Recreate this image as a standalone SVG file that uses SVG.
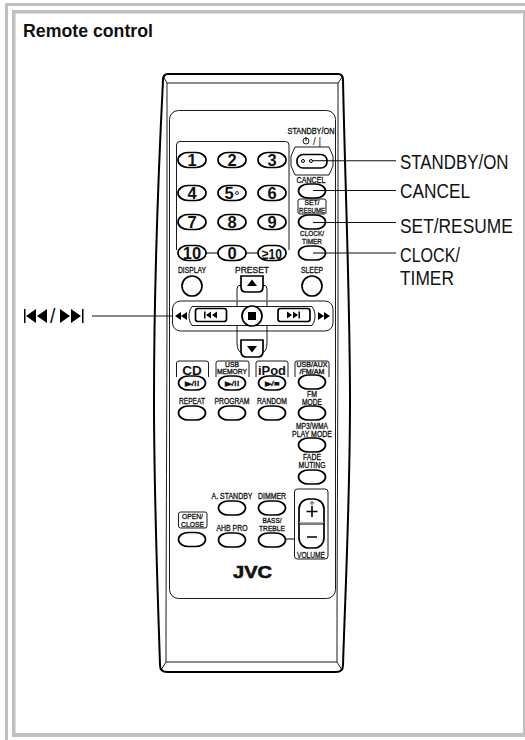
<svg xmlns="http://www.w3.org/2000/svg" width="525" height="740" viewBox="0 0 525 740">
<style>
text{font-family:"Liberation Sans",Arial,sans-serif;fill:#111}
.s{font-size:8.500px;text-anchor:middle;stroke:#111;stroke-width:.3}
.b{fill:#fff;stroke:#000;stroke-width:1.7}
.t{fill:none;stroke:#000;stroke-width:.9}
.c{fill:none;stroke:#111;stroke-width:1.1}
.f{fill:#000;stroke:none}
.l{font-size:19.500px}
.n{font-size:16.500px;font-weight:bold;text-anchor:middle}
</style>
<defs>
<rect id="btn" class="b" x="-13.500" y="-7" width="27" height="14" rx="10" ry="7"/>
<rect id="num" class="b" x="-14" y="-7.500" width="28" height="15" rx="10" ry="7.500"/>
</defs>
<g id="frame" fill="#c0c0c4">
<rect x="5" y="3" width="520" height="3"/><rect x="5" y="3" width="3" height="737"/>
<rect x="12" y="10" width="513" height="3.500"/><rect x="12" y="10" width="3.500" height="727"/>
<rect x="12" y="733" width="513" height="4"/><rect x="523" y="10" width="2" height="727"/>
</g>
<text id="title" x="23" y="37" font-size="17.500" font-weight="bold" textLength="130" lengthAdjust="spacingAndGlyphs">Remote control</text>
<g id="body">
<path d="M163,80Q163,74 168,74L338,74Q343,74 343,80C345,180 350,300 350,400C350,500 345,600 343,665Q343,672 336,672L167,672Q160,672 160,665C158,600 154,500 154,400C154,300 158,180 163,80Z" fill="#fff" stroke="#000" stroke-width="2"/>
<path d="M167,83H338M167,83V290C167,400 166,550 166,662H337C337,550 338,400 338,290V83M163,76L167,83M343,76L338,83M161,670L166,662M342,670L337,662" class="t"/>
<rect x="169.500" y="110.500" width="166" height="488" rx="9" class="t" fill="#fff"/>
</g>
<path id="numframe" d="M176.500,250V145Q176.500,141.500 180,141.500H285.500Q289,141.500 289,145V250" class="t"/>
<g id="connectors">
<path d="M303,160.700H396M313,190.500H396M313,222.500H396M313,253H396M92,316H172" class="c"/>
<path d="M205,253H219M245,253H259M285,539H294" fill="none" stroke="#000" stroke-width="1.200"/>
</g>
<g id="numbers">
<use href="#num" x="192" y="160"/><text class="n" x="192" y="166">1</text>
<use href="#num" x="232" y="160"/><text class="n" x="232" y="166">2</text>
<use href="#num" x="272" y="160"/><text class="n" x="272" y="166">3</text>
<use href="#num" x="192" y="193"/><text class="n" x="192" y="199">4</text>
<use href="#num" x="232" y="193"/><text class="n" x="229" y="199">5</text><circle cx="237" cy="193" r="1.500" fill="none" stroke="#000" stroke-width=".8"/>
<use href="#num" x="272" y="193"/><text class="n" x="272" y="199">6</text>
<use href="#num" x="192" y="222"/><text class="n" x="192" y="228">7</text>
<use href="#num" x="232" y="222"/><text class="n" x="232" y="228">8</text>
<use href="#num" x="272" y="222"/><text class="n" x="272" y="228">9</text>
<use href="#num" x="192" y="253"/><text class="n" x="192" y="259">10</text>
<use href="#num" x="232" y="253"/><text class="n" x="232" y="259">0</text>
<use href="#num" x="272" y="253"/><text class="n" x="272" y="258.500" style="font-size:14px" textLength="20" lengthAdjust="spacingAndGlyphs">≥10</text>
</g>
<g id="standby">
<text class="s" x="311" y="134" textLength="47" lengthAdjust="spacingAndGlyphs">STANDBY/ON</text>
<circle cx="306" cy="141" r="3" fill="none" stroke="#000" stroke-width=".9"/><path d="M306,137V141" stroke="#000" stroke-width="1"/>
<text x="317" y="144.500" font-size="10" text-anchor="middle">/ |</text>
<path d="M295,147H329L333,156V166L329,175H295L291,166V156Z" class="t" fill="#fff"/>
<rect x="297" y="154.500" width="30" height="13.500" rx="6" class="b"/>
<circle cx="303" cy="161" r="1.500" fill="none" stroke="#000"/><circle cx="311" cy="161" r="1.500" fill="none" stroke="#000"/>
<path d="M312.500,160.700H327" class="c"/>
</g>
<g id="cancel"><text class="s" x="311" y="183" textLength="29" lengthAdjust="spacingAndGlyphs">CANCEL</text><use href="#btn" x="312" y="191"/><path d="M313,190.500H326" class="c"/></g>
<g id="setresume">
<rect x="298" y="199" width="28" height="15" rx="2" class="t"/>
<text class="s" x="312" y="205" textLength="15" lengthAdjust="spacingAndGlyphs" style="font-size:7px">SET/</text>
<text class="s" x="312" y="212.500" textLength="26" lengthAdjust="spacingAndGlyphs" style="font-size:7px">RESUME</text>
<use href="#btn" x="312" y="222"/><path d="M313,222.500H326" class="c"/>
</g>
<g id="clock">
<text class="s" x="312" y="236" textLength="24" lengthAdjust="spacingAndGlyphs" style="font-size:7.500px">CLOCK/</text>
<text class="s" x="312" y="244" textLength="20" lengthAdjust="spacingAndGlyphs" style="font-size:7.500px">TIMER</text>
<use href="#btn" x="312" y="253"/><path d="M313,253H326" class="c"/>
</g>
<g id="display"><text class="s" x="192" y="273" textLength="28" lengthAdjust="spacingAndGlyphs">DISPLAY</text><circle class="b" cx="192" cy="286" r="10"/></g>
<g id="sleep"><text class="s" x="312" y="273" textLength="22" lengthAdjust="spacingAndGlyphs">SLEEP</text><circle class="b" cx="312" cy="286" r="10"/></g>
<g id="dpad">
<path d="M237,300V289Q237,285 241,285M263,285Q267,285 267,289V300M237,331V342Q237,353 243,353M261,353Q267,353 267,342V331" class="t"/>
<rect x="172.500" y="301" width="160.500" height="30" rx="8" class="t" fill="#fff"/>
<path d="M192,306.500H312C316,312 316,320 312,325.500H192C188,320 188,312 192,306.500Z" class="t" fill="#fff"/>
<path d="M237,301V306M267,301V306M237,326V331M267,326V331" class="t"/>
<text class="s" x="252" y="273" textLength="34" lengthAdjust="spacingAndGlyphs">PRESET</text>
<path d="M241,276H263V287Q263,292 258,292H246Q241,292 241,287Z" class="b"/><path d="M247,286L252,279.500L257,286Z" class="f"/>
<path d="M241,340H263V351Q263,357 258,357H246Q241,357 241,351Z" class="b"/><path d="M247,346L257,346L252,352.500Z" class="f"/>
<rect x="195.500" y="308.500" width="31" height="13" rx="2.500" class="b"/>
<rect x="278" y="308.500" width="32" height="13" rx="2.500" class="b"/>
<path d="M204,311.500V318.500H205.500V311.500ZM206,315L211,311.500V318.500ZM212,315L217,311.500V318.500Z" class="f"/>
<path d="M287,311.500L292,315L287,318.500ZM293,311.500L298,315L293,318.500ZM298.500,311.500V318.500H300V311.500Z" class="f"/>
<circle class="b" cx="252" cy="316" r="10" stroke-width="2"/><rect x="248" y="312" width="8" height="8" class="f"/>
<path d="M175,316L181,312V320ZM181,316L187,312V320Z" class="f"/>
<path d="M324,312L330,316L324,320ZM318,312L324,316L318,320Z" class="f"/>
</g>
<g id="cd">
<path d="M176.500,377V363Q176.500,361 179,361H206Q208.500,361 208.500,363V377" class="t"/>
<text x="192" y="374.500" font-size="13.500" font-weight="bold" text-anchor="middle">CD</text>
<use href="#btn" x="192" y="383"/><text class="s" x="192" y="386" style="font-size:7px" textLength="15" lengthAdjust="spacingAndGlyphs">▶/II</text>
</g>
<g id="usb">
<path d="M216,377V363Q216,361 218,361H247Q249,361 249,363V377" class="t"/>
<text class="s" x="232" y="367" style="font-size:6.500px" textLength="14" lengthAdjust="spacingAndGlyphs">USB</text>
<text class="s" x="232" y="374" style="font-size:6.500px" textLength="30" lengthAdjust="spacingAndGlyphs">MEMORY</text>
<use href="#btn" x="232" y="383"/><text class="s" x="232" y="386" style="font-size:7px" textLength="15" lengthAdjust="spacingAndGlyphs">▶/II</text>
</g>
<g id="ipod">
<path d="M256,377V363Q256,361 258,361H286Q288,361 288,363V377" class="t"/>
<text x="272" y="374.500" font-size="13.500" font-weight="bold" text-anchor="middle" textLength="28" lengthAdjust="spacingAndGlyphs">iPod</text>
<use href="#btn" x="272" y="383"/><text class="s" x="272" y="386" style="font-size:7px" textLength="15" lengthAdjust="spacingAndGlyphs">▶/■</text>
</g>
<g id="usbaux">
<path d="M295,377V363Q295,361 297,361H327Q329,361 329,363V377" class="t"/>
<text class="s" x="312" y="367" style="font-size:6.500px" textLength="31" lengthAdjust="spacingAndGlyphs">USB/AUX</text>
<text class="s" x="312" y="374" style="font-size:6.500px" textLength="25" lengthAdjust="spacingAndGlyphs">/FM/AM</text>
<use href="#btn" x="312" y="382"/>
</g>
<g id="repeat"><text class="s" x="192" y="404" textLength="26" lengthAdjust="spacingAndGlyphs">REPEAT</text><use href="#btn" x="192" y="413"/></g>
<g id="program"><text class="s" x="232" y="404" textLength="35" lengthAdjust="spacingAndGlyphs">PROGRAM</text><use href="#btn" x="232" y="413"/></g>
<g id="random"><text class="s" x="272" y="404" textLength="30" lengthAdjust="spacingAndGlyphs">RANDOM</text><use href="#btn" x="272" y="413"/></g>
<g id="fmmode"><text class="s" x="312" y="397" textLength="10" lengthAdjust="spacingAndGlyphs">FM</text><text class="s" x="312" y="404.500" textLength="20" lengthAdjust="spacingAndGlyphs">MODE</text><use href="#btn" x="312" y="413"/></g>
<g id="playmode"><text class="s" x="312" y="428.500" textLength="32" lengthAdjust="spacingAndGlyphs">MP3/WMA</text><text class="s" x="312" y="437" textLength="40" lengthAdjust="spacingAndGlyphs">PLAY MODE</text><use href="#btn" x="312" y="445"/></g>
<g id="muting"><text class="s" x="312" y="459.500" textLength="18" lengthAdjust="spacingAndGlyphs">FADE</text><text class="s" x="312" y="468" textLength="27" lengthAdjust="spacingAndGlyphs">MUTING</text><use href="#btn" x="312" y="477"/></g>
<g id="astandby"><text class="s" x="232" y="499" textLength="41" lengthAdjust="spacingAndGlyphs">A. STANDBY</text><use href="#btn" x="232" y="508"/></g>
<g id="dimmer"><text class="s" x="272" y="499" textLength="28" lengthAdjust="spacingAndGlyphs">DIMMER</text><use href="#btn" x="272" y="508"/></g>
<g id="open">
<rect x="178.500" y="512" width="28.500" height="16" rx="2" class="t"/>
<text class="s" x="192.500" y="519" textLength="21" lengthAdjust="spacingAndGlyphs" style="font-size:7.500px">OPEN/</text>
<text class="s" x="192.500" y="527" textLength="23" lengthAdjust="spacingAndGlyphs" style="font-size:7.500px">CLOSE</text>
<use href="#btn" x="192" y="539.500"/>
</g>
<g id="ahb"><text class="s" x="232" y="531" textLength="31" lengthAdjust="spacingAndGlyphs">AHB PRO</text><use href="#btn" x="232" y="540"/></g>
<g id="bass"><text class="s" x="272" y="523" textLength="19" lengthAdjust="spacingAndGlyphs" style="font-size:7.500px">BASS/</text><text class="s" x="272" y="531" textLength="26" lengthAdjust="spacingAndGlyphs" style="font-size:7.500px">TREBLE</text><use href="#btn" x="272" y="540"/></g>
<g id="volume">
<rect x="294.500" y="489" width="33.500" height="70" rx="3" class="t"/>
<rect x="299" y="499" width="25" height="49" rx="10" class="b"/>
<path d="M299,522.500H324" stroke="#aaa" stroke-width="1"/><path d="M299,524H324" stroke="#000" stroke-width="1"/>
<circle cx="312" cy="503" r="1.300" fill="none" stroke="#000" stroke-width=".7"/>
<path d="M312,506V517M306.500,511.500H317.500M307,537H317" stroke="#000" stroke-width="1.600" fill="none"/>
<rect x="296" y="550" width="30" height="8" fill="#fff"/>
<text class="s" x="311" y="557.500" textLength="28" lengthAdjust="spacingAndGlyphs">VOLUME</text>
</g>
<text id="jvc" x="252.500" y="578" font-size="17" font-weight="bold" text-anchor="middle" textLength="39" lengthAdjust="spacingAndGlyphs" stroke="#111" stroke-width=".6">JVC</text>
<g id="labels">
<text class="l" transform="translate(400,169) scale(.866,1)">STANDBY/ON</text>
<text class="l" transform="translate(400,198) scale(.886,1)">CANCEL</text>
<text class="l" transform="translate(400,233) scale(.891,1)">SET/RESUME</text>
<text class="l" transform="translate(400,261.500) scale(.826,1)">CLOCK/</text>
<text class="l" transform="translate(400,285) scale(.89,1)">TIMER</text>
</g>
<g id="skiplabel">
<path d="M24,309V323H25.500V309ZM26,316L36,309V323ZM37,316L47,309V323Z" class="f"/>
<text class="l" x="50" y="323">/</text>
<path d="M60,309L70,316L60,323ZM71,309L81,316L71,323ZM82,309V323H83.500V309Z" class="f"/>
</g>
</svg>
